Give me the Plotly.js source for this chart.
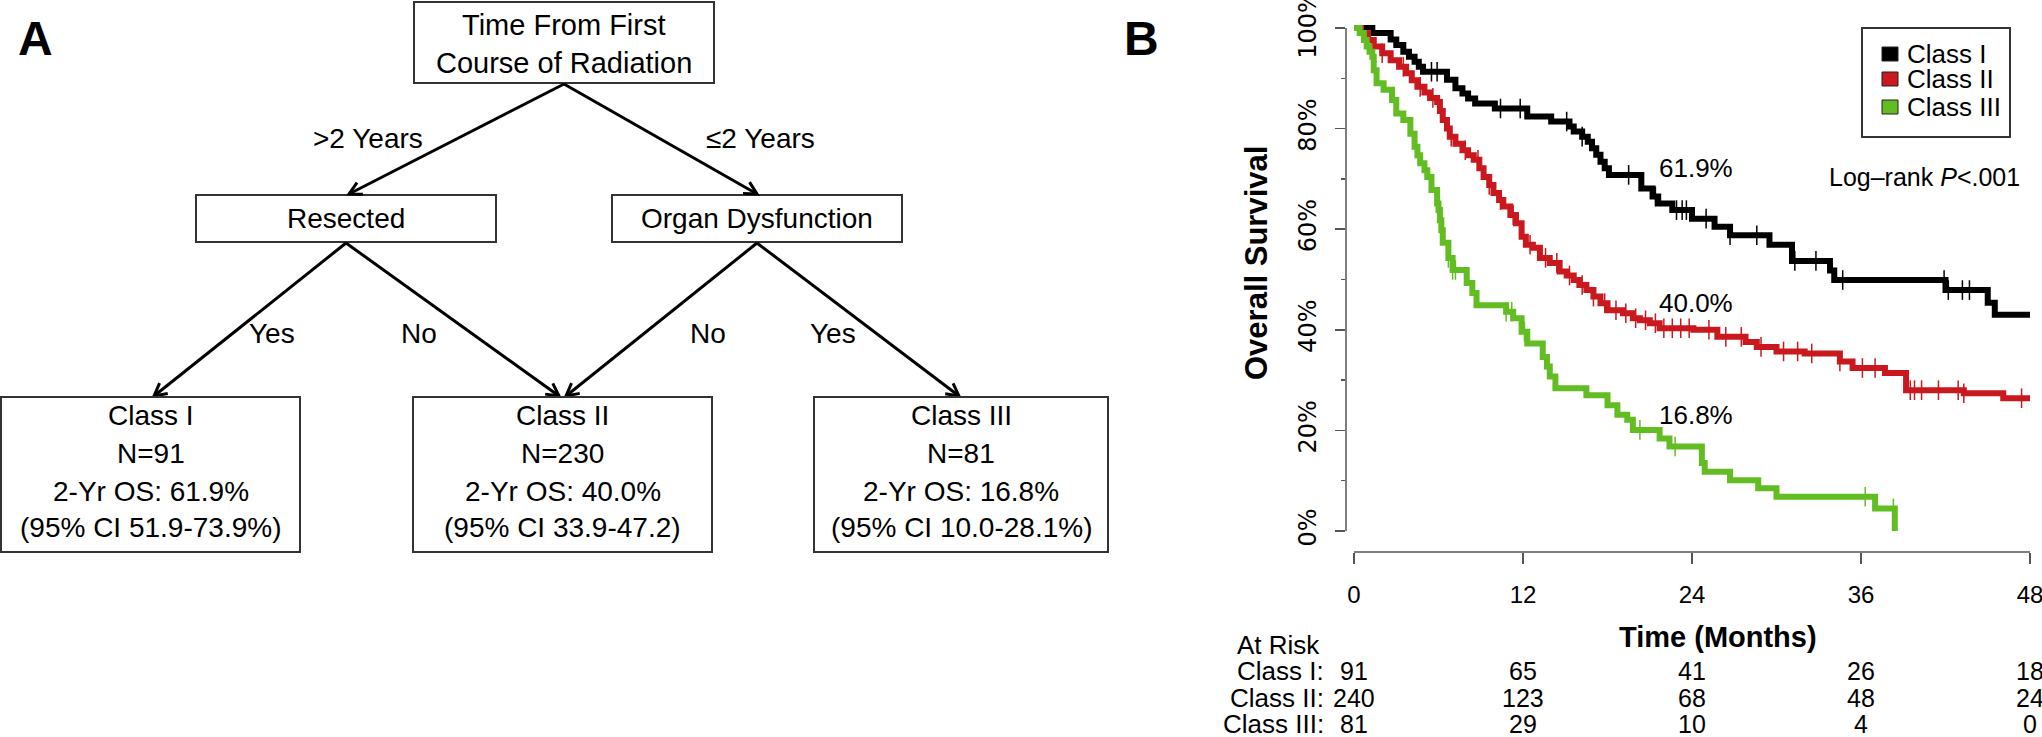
<!DOCTYPE html>
<html><head><meta charset="utf-8">
<script src="https://cdn.plot.ly/plotly-3.0.1.min.js"></script>
<style>html,body{margin:0;padding:0;background:#fff;}#chart{width:2042px;height:737px;}</style>
</head><body><div id="chart"></div>
<script>
// ---------------- DATA ----------------
const seriesNames = ['Class I', 'Class II', 'Class III'];

// Kaplan-Meier step curves (months, % surviving)
const timeI = [0, 1.3, 2.6, 3.0, 3.5, 3.9, 4.3, 4.6, 4.9, 6.6, 7.2, 7.7, 8.1, 8.6, 10.0, 12.3, 14.0, 15.3, 15.6, 16.2, 16.6, 16.9, 17.2, 17.5, 17.8, 18.1, 20.4, 21.2, 21.6, 22.6, 24.0, 25.6, 26.7, 29.5, 31.1, 33.8, 34.1, 42.0, 45.0, 45.5, 48.0];
const survI = [100, 99.0, 97.7, 96.6, 95.3, 94.3, 93.3, 92.3, 91.3, 89.7, 88.0, 87.0, 86.0, 85.0, 84.0, 82.4, 81.4, 80.4, 79.4, 78.4, 77.4, 76.1, 74.8, 73.4, 72.1, 70.8, 68.1, 66.5, 65.1, 63.8, 62.1, 60.5, 58.8, 56.9, 53.7, 51.8, 49.9, 47.9, 45.4, 43.0, 43.0];

const timeII = [0, 0.5, 1.0, 1.4, 2.0, 2.6, 3.2, 3.7, 4.1, 4.5, 5.0, 5.4, 5.9, 6.1, 6.3, 6.6, 6.8, 7.2, 7.7, 8.1, 8.5, 8.9, 9.2, 9.6, 9.9, 10.3, 10.6, 11.1, 11.5, 11.9, 12.2, 12.7, 13.2, 13.9, 14.6, 15.1, 15.6, 16.0, 16.5, 17.0, 17.5, 18.0, 19.1, 19.8, 20.3, 21.0, 21.7, 24.1, 25.8, 27.8, 28.6, 30.0, 32.0, 34.5, 35.4, 37.7, 39.2, 43.3, 46.1, 48.0];
const survII = [100, 99.0, 97.6, 96.3, 95.0, 93.6, 92.3, 91.0, 89.6, 88.3, 87.2, 86.1, 85.3, 83.5, 81.7, 80.0, 78.4, 77.0, 75.7, 74.7, 73.8, 72.1, 70.4, 68.8, 67.2, 65.8, 64.5, 62.8, 61.2, 58.5, 56.9, 56.3, 54.3, 53.3, 51.6, 50.8, 49.9, 48.9, 47.9, 46.6, 45.3, 43.9, 43.3, 42.3, 41.9, 41.3, 40.3, 40.0, 38.6, 37.6, 36.6, 35.7, 35.3, 33.7, 32.4, 31.4, 28.0, 27.4, 26.4, 26.4];

const timeIII = [0, 0.4, 0.7, 0.9, 1.1, 1.3, 1.4, 1.6, 2.1, 2.7, 3.0, 3.5, 4.0, 4.3, 4.5, 4.7, 5.0, 5.2, 5.5, 5.9, 6.0, 6.1, 6.2, 6.3, 6.7, 7.0, 8.0, 8.4, 8.7, 10.8, 11.3, 11.9, 12.3, 13.4, 13.7, 13.9, 14.3, 16.5, 18.0, 18.7, 19.4, 19.8, 21.7, 22.4, 24.7, 24.9, 26.7, 28.7, 30.0, 37.0, 38.4];
const survIII = [100, 99.0, 97.6, 96.3, 95.3, 94.3, 91.6, 89.0, 87.7, 85.7, 83.0, 81.7, 79.0, 76.4, 74.7, 73.1, 71.7, 70.4, 67.8, 65.1, 63.8, 61.8, 59.8, 57.3, 54.3, 51.9, 49.3, 47.3, 44.9, 43.6, 42.3, 39.6, 37.3, 34.6, 32.7, 30.7, 28.4, 27.0, 25.0, 23.1, 22.1, 20.1, 18.4, 16.8, 13.5, 11.8, 10.1, 8.5, 6.8, 4.5, 0];

// censoring times (months)
const censorI = [5.5, 5.9, 10.4, 11.8, 15.1, 16.2, 19.5, 21.4, 22.9, 23.3, 23.6, 25.0, 26.7, 28.6, 31.3, 32.8, 34.7, 41.9, 42.2, 43.2, 43.7];
const censorII = [2.0, 3.5, 4.7, 5.6, 6.9, 7.9, 8.8, 9.6, 10.4, 11.3, 12.5, 13.6, 14.4, 15.3, 16.2, 17.0, 17.8, 18.6, 19.3, 20.0, 20.7, 21.4, 22.0, 22.6, 23.2, 23.8, 25.2, 26.4, 27.5, 28.9, 30.5, 31.5, 32.5, 34.5, 36.1, 37.0, 39.5, 39.8, 40.3, 41.5, 42.9, 43.3, 47.4];
const censorIII = [6.0, 6.7, 7.0, 7.2, 10.8, 11.2, 12.1, 20.3, 22.8, 36.3, 38.3];

const twoYearOS = ['61.9%', '40.0%', '16.8%'];
const logRankText = 'Log\u2013rank <i>P</i><.001';

const xTicks = [0, 12, 24, 36, 48];
const yTicks = [0, 20, 40, 60, 80, 100];
const yMinorTicks = [10, 30, 50, 70, 90];

const riskTimes = [0, 12, 24, 36, 48];
const riskI = [91, 65, 41, 26, 18];
const riskII = [240, 123, 68, 48, 24];
const riskIII = [81, 29, 10, 4, 0];

// decision tree text
const rootText = ['Time From First', 'Course of Radiation'];
const splitText = ['Resected', 'Organ Dysfunction'];
const branchText = ['>2 Years', '\u22642 Years'];
const leafBranchText = ['Yes', 'No', 'No', 'Yes'];
const leafN = [91, 230, 81];
const leafOS = ['61.9%', '40.0%', '16.8%'];
const leafCI = ['(95% CI 51.9-73.9%)', '(95% CI 33.9-47.2)', '(95% CI 10.0-28.1%)'];

// ---------------- STYLE / LAYOUT ----------------
const W = 2042, H = 737;
const colors = ['#000000', '#c9191e', '#62bd23'];
const FONT = 'Liberation Sans, Arial, sans-serif';
const KM = {left: 1346, right: 2040, top: 20, bottom: 552, x0: -0.57, x1: 48.71, y0: -4.17, y1: 101.59};
const tx = t => KM.left + (t - KM.x0) / (KM.x1 - KM.x0) * (KM.right - KM.left);
const sy = s => KM.bottom - (s - KM.y0) / (KM.y1 - KM.y0) * (KM.bottom - KM.top);

function survAt(times, surv, t) {
  let s = surv[0];
  for (let i = 0; i < times.length; i++) if (times[i] <= t) s = surv[i];
  return s;
}

const curves = [[timeI, survI, censorI], [timeII, survII, censorII], [timeIII, survIII, censorIII]];
const traces = [];
curves.forEach((c, i) => {
  traces.push({x: c[0], y: c[1], type: 'scatter', mode: 'lines', xaxis: 'x', yaxis: 'y',
    line: {shape: 'hv', color: colors[i], width: 6}, name: seriesNames[i], hoverinfo: 'skip', showlegend: false});
});
curves.forEach((c, i) => {
  traces.push({x: c[2], y: c[2].map(t => survAt(c[0], c[1], t)), type: 'scatter', mode: 'markers', xaxis: 'x', yaxis: 'y',
    marker: {symbol: 'line-ns', size: 14, color: colors[i], line: {color: colors[i], width: 1.5}}, hoverinfo: 'skip', showlegend: false});
});

const shapes = [];
const annotations = [];
const LINE = {color: '#000', width: 3};
const BOX = {color: '#333', width: 2};

function ann(text, x, y, size, opts) {
  annotations.push(Object.assign({text: text, x: x, y: y, xref: 'x2', yref: 'y2', showarrow: false,
    xanchor: 'center', yanchor: 'middle', font: {family: FONT, size: size, color: '#000'}}, opts || {}));
}
function box(x0, y0, x1, y1) {
  shapes.push({type: 'rect', xref: 'x2', yref: 'y2', x0: x0, y0: y0, x1: x1, y1: y1, line: BOX, fillcolor: 'rgba(0,0,0,0)'});
}
function arrow(ox, oy, tipx, tipy) {
  shapes.push({type: 'line', xref: 'x2', yref: 'y2', x0: ox, y0: oy, x1: tipx, y1: tipy, line: LINE});
  const dx = tipx - ox, dy = tipy - oy, L = Math.hypot(dx, dy);
  const ux = dx / L, uy = dy / L, len = 14, th = 28 * Math.PI / 180;
  const a1x = tipx - len * (ux * Math.cos(th) - uy * Math.sin(th));
  const a1y = tipy - len * (ux * Math.sin(th) + uy * Math.cos(th));
  const a2x = tipx - len * (ux * Math.cos(-th) - uy * Math.sin(-th));
  const a2y = tipy - len * (ux * Math.sin(-th) + uy * Math.cos(-th));
  shapes.push({type: 'path', xref: 'x2', yref: 'y2', path: `M${a1x},${a1y} L${tipx},${tipy} L${a2x},${a2y}`, line: LINE});
}

// ---- Panel A: tree ----
ann('<b>A</b>', 35, 38, 48, {font: {family: 'Liberation Sans Narrow, ' + FONT, size: 48, color: '#000'}});
box(414, 2, 714, 83);
ann(rootText[0], 564, 25, 29);
ann(rootText[1], 564, 63, 29);
box(196, 195, 496, 242);
box(612, 195, 902, 242);
ann(splitText[0], 346, 218, 28);
ann(splitText[1], 757, 218, 28);
arrow(564, 84, 349, 194);
arrow(564, 84, 757, 194);
ann(branchText[0], 368, 138, 28);
ann(branchText[1], 760, 138, 28);

const leafBoxes = [[1, 300], [413, 712], [814, 1108]];
const leafTips = [154, 559, 959];
arrow(346, 243, leafTips[0], 396);
arrow(346, 243, leafTips[1], 396);
arrow(757, 243, leafTips[1] + 7, 396);
arrow(757, 243, leafTips[2], 396);
ann(leafBranchText[0], 272, 333, 28);
ann(leafBranchText[1], 419, 333, 28);
ann(leafBranchText[2], 708, 333, 28);
ann(leafBranchText[3], 833, 333, 28);
leafBoxes.forEach((b, i) => {
  box(b[0], 397, b[1], 552);
  const cx = (b[0] + b[1]) / 2;
  ann(seriesNames[i], cx, 415, 28);
  ann('N=' + leafN[i], cx, 453, 28);
  ann('2-Yr OS: ' + leafOS[i], cx, 491, 28);
  ann(leafCI[i], cx, 527, 28);
});

// ---- Panel B: KM decorations ----
ann('<b>B</b>', 1141, 38, 48, {font: {family: 'Liberation Sans Narrow, ' + FONT, size: 48, color: '#000'}});
shapes.push({type: 'line', xref: 'x2', yref: 'y2', x0: KM.left, x1: KM.left, y0: sy(0), y1: sy(100), line: {color: '#555', width: 1.5}});
shapes.push({type: 'line', xref: 'x2', yref: 'y2', x0: tx(0), x1: tx(48), y0: KM.bottom, y1: KM.bottom, line: {color: '#555', width: 1.5}});

ann('<b>Overall Survival</b>', 1256, 263, 31, {textangle: -90});
ann('<b>Time (Months)</b>', 1718, 637, 29);

// 2-year labels
const labelS = [72.2, 45.3, 23.1];
twoYearOS.forEach((t, i) => {
  annotations.push({text: t, x: 24.3, y: labelS[i], xref: 'x', yref: 'y', showarrow: false,
    xanchor: 'center', yanchor: 'middle', font: {family: FONT, size: 26, color: '#000'}});
});
ann(logRankText, 2022, 177, 25, {xanchor: 'right'});

// legend
box(1862, 28, 2010, 137);
const legY = [54, 79, 107];
seriesNames.forEach((n, i) => {
  shapes.push({type: 'rect', xref: 'x2', yref: 'y2', x0: 1882, x1: 1898, y0: legY[i] - 7, y1: legY[i] + 7,
    line: {color: '#222', width: 1}, fillcolor: colors[i]});
  ann(n, 1905, legY[i], 26, {xanchor: 'left'});
});

// at-risk table
const riskRows = [riskI, riskII, riskIII];
const riskY = [671, 698, 724];
ann('At Risk', 1322, 645, 26, {xanchor: 'right'});
riskRows.forEach((row, r) => {
  ann(seriesNames[r] + ':', 1326, riskY[r], 26, {xanchor: 'right'});
  row.forEach((v, k) => {
    annotations.push({text: String(v), x: riskTimes[k], y: riskY[r], xref: 'x', yref: 'y2', showarrow: false,
      xanchor: 'center', yanchor: 'middle', font: {family: FONT, size: 25, color: '#000'}});
  });
});

const layout = {
  width: W, height: H, margin: {l: 0, r: 0, t: 0, b: 0},
  paper_bgcolor: '#ffffff', plot_bgcolor: 'rgba(0,0,0,0)', showlegend: false,
  font: {family: FONT, color: '#000'},
  xaxis: {domain: [KM.left / W, KM.right / W], range: [KM.x0, KM.x1], anchor: 'y',
    showline: false, showgrid: false, zeroline: false, ticks: 'outside', ticklen: 11, tickwidth: 1.5, tickcolor: '#555',
    tickvals: xTicks, ticktext: xTicks.map(String), tickfont: {family: FONT, size: 24, color: '#000'}, ticklabelstandoff: 10,
    ticklabeloverflow: 'allow', fixedrange: true},
  yaxis: {domain: [(H - KM.bottom) / H, (H - KM.top) / H], range: [KM.y0, KM.y1], anchor: 'x',
    showline: false, showgrid: false, zeroline: false, ticks: 'outside', ticklen: 10, tickwidth: 1.5, tickcolor: '#555',
    tickvals: yTicks, ticktext: yTicks.map(v => v + '%'), tickangle: -90,
    tickfont: {family: 'DejaVu Sans, sans-serif', size: 24, color: '#000'}, ticklabelstandoff: 9,
    ticklabeloverflow: 'allow',
    minor: {tickvals: yMinorTicks, ticks: 'outside', ticklen: 4, tickwidth: 1.5, tickcolor: '#555', showgrid: false},
    fixedrange: true},
  xaxis2: {domain: [0, 1], range: [0, W], anchor: 'y2', visible: false, fixedrange: true},
  yaxis2: {domain: [0, 1], range: [H, 0], anchor: 'x2', visible: false, fixedrange: true},
  shapes: shapes, annotations: annotations
};
traces.push({x: [0], y: [0], xaxis: 'x2', yaxis: 'y2', type: 'scatter', mode: 'markers', marker: {opacity: 0}, hoverinfo: 'skip', showlegend: false});

Plotly.newPlot('chart', traces, layout, {displayModeBar: false, staticPlot: true});
</script></body></html>
